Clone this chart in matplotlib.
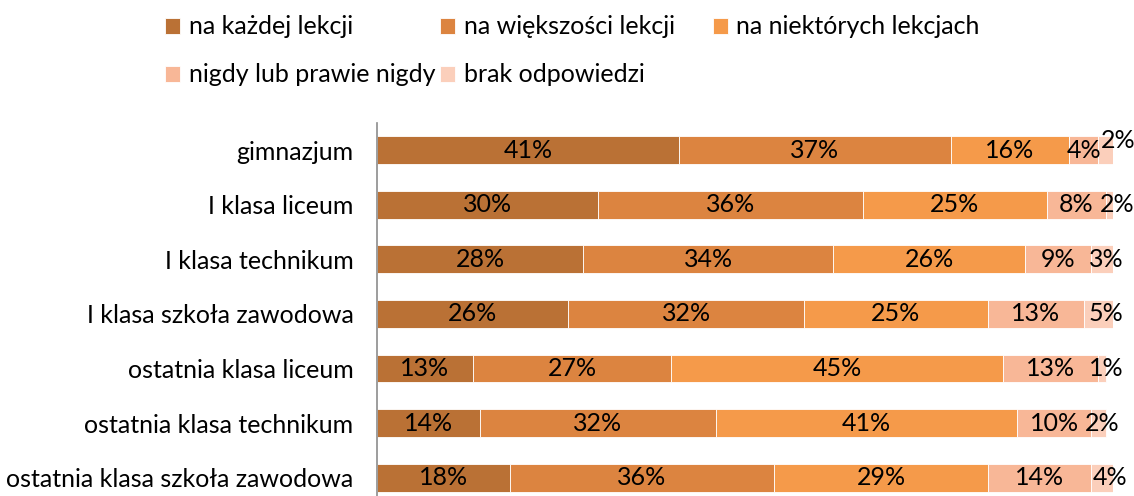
import matplotlib.pyplot as plt
import numpy as np

plt.rcParams['font.family'] = ['Lato', 'DejaVu Sans']

categories = ['gimnazjum', 'I klasa liceum', 'I klasa technikum',
              'I klasa szkoła zawodowa', 'ostatnia klasa liceum',
              'ostatnia klasa technikum', 'ostatnia klasa szkoła zawodowa']
series = ['na każdej lekcji', 'na większości lekcji', 'na niektórych lekcjach',
          'nigdy lub prawie nigdy', 'brak odpowiedzi']
each_lesson = [41, 30, 28, 26, 13, 14, 18]
most_lessons = [37, 36, 34, 32, 27, 32, 36]
some_lessons = [16, 25, 26, 25, 45, 41, 29]
never = [4, 8, 9, 13, 13, 10, 14]
no_answer = [2, 2, 3, 5, 1, 2, 4]

colors = ['#BA7135', '#DC8440', '#F59A4A', '#F8B797', '#FBCFBB']
FS = 18

fig = plt.figure(figsize=(11.34, 4.96), dpi=100)
ax = fig.add_axes([0.3325, -0.018, 0.649, 0.770])

data = [each_lesson, most_lessons, some_lessons, never, no_answer]
y = np.arange(len(categories))
left = np.zeros(len(categories))
handles = []
for i, (vals, name, col) in enumerate(zip(data, series, colors)):
    vals = np.array(vals, dtype=float)
    bars = ax.barh(y, vals, left=left, height=0.51, color=col,
                   edgecolor='white', linewidth=0.6, label=name)
    handles.append(bars)
    for yy, l, v in zip(y, left, vals):
        dx = 3 if i == 4 else 0
        dy = 0
        if i == 4 and yy == 0:
            # no room next to the 4% label, push it up and right
            dx, dy = 9, 7
        ax.annotate(f'{int(v)}%', (l + v / 2, yy), xytext=(dx, dy),
                    textcoords='offset points', ha='center', va='center',
                    fontsize=FS, color='black')
    left += vals

ax.set_xlim(0, 100)
ax.set_ylim(len(categories) - 0.5, -0.5)
ax.set_yticks(y)
ax.set_yticklabels(categories, fontsize=FS)
ax.tick_params(axis='y', length=0, pad=17)
ax.set_xticks([])
for s in ['top', 'right', 'bottom']:
    ax.spines[s].set_visible(False)
ax.spines['left'].set_color('#8C8C8C')
ax.spines['left'].set_linewidth(1.2)

# legend as three columns, each placed on its own
columns = [[0, 3], [1, 4], [2]]
col_x = [0.1455, 0.388, 0.6285]
for idx, cx in zip(columns, col_x):
    fig.legend(handles=[handles[k] for k in idx],
               labels=[series[k] for k in idx], loc='upper left',
               bbox_to_anchor=(cx, 0.969), frameon=False, fontsize=FS,
               borderpad=0, borderaxespad=0,
               handlelength=0.6, handleheight=0.6, handletextpad=0.35,
               labelspacing=1.0)

fig.savefig('out.png', dpi=100)
